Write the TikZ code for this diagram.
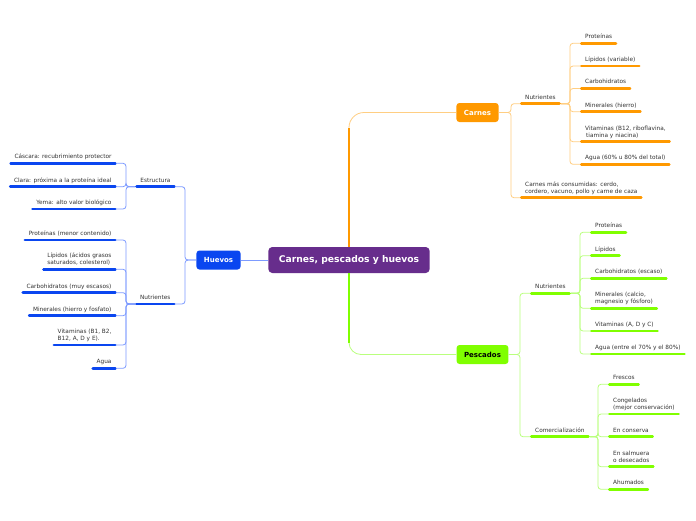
\documentclass[tikz,border=0pt]{standalone}
\usepackage{fontspec}
\setmainfont{DejaVu Sans}
\usetikzlibrary{calc}
\definecolor{cPurple}{RGB}{103,45,140}
\definecolor{cOrange}{RGB}{255,153,0}
\definecolor{cOrangeL}{RGB}{255,206,130}
\definecolor{cGreen}{RGB}{128,255,0}
\definecolor{cGreenL}{RGB}{185,255,125}
\definecolor{cBlue}{RGB}{10,70,240}
\definecolor{cBlueL}{RGB}{125,155,255}
\definecolor{cText}{RGB}{51,51,51}
\begin{document}
\begin{tikzpicture}[x=1pt,y=-1pt,
  rootbox/.style={fill=cPurple, rounded corners=4pt, text=white, font=\fontsize{9.2}{11}\selectfont\bfseries, minimum height=26pt, inner xsep=10.5pt, inner ysep=0pt},
  mainbox/.style={fill=#1, rounded corners=3pt, font=\fontsize{7}{8}\selectfont\bfseries, minimum height=19pt, inner xsep=7.5pt, inner ysep=0pt},
  leaf/.style={text=cText, font=\fontsize{5.8}{7}\selectfont, align=left, text depth=0pt, inner xsep=5pt, inner ysep=4.5pt},
  leafR/.style={leaf, anchor=south west},
  leafL/.style={leaf, anchor=south east},
  ul/.style={draw=#1, line width=2.6pt, line cap=round, shorten <=1.3pt, shorten >=1.3pt},
  con/.style={draw=#1, line width=0.8pt, rounded corners=3pt}
]
\useasboundingbox (0,0) rectangle (696,520);
\fill[white] (0,0) rectangle (696,520);

% main nodes
\node[rootbox] (root) at (349,260) {Carnes, pescados y huevos};
\node[mainbox=cOrange, text=white] (carnes) at (477.5,112.5) {Carnes};
\node[mainbox=cGreen, text=black] (pescados) at (482.5,354.5) {Pescados};
\node[mainbox=cBlue, text=white] (huevos) at (218.5,260) {Huevos};

% Carnes subtree
\node[leafR] (cnut) at (520,103.7) {Nutrientes};
\node[leafR] (cmas) at (520,197.7) {Carnes más consumidas: cerdo,\\cordero, vacuno, pollo y carne de caza};
\node[leafR] (cn1) at (580,43.3) {Proteínas};
\node[leafR] (cn2) at (580,66) {Lípidos (variable)};
\node[leafR] (cn3) at (580,88.5) {Carbohidratos};
\node[leafR] (cn4) at (580,111.7) {Minerales (hierro)};
\node[leafR] (cn5) at (580,141.7) {Vitaminas (B12, riboflavina,\\\hspace{1pt}tiamina y niacina)};
\node[leafR] (cn6) at (580,164.3) {Agua (60\% u 80\% del total)};

% Pescados subtree
\node[leafR] (pnut) at (530,293.3) {Nutrientes};
\node[leafR] (pcom) at (530,436.7) {Comercialización};
\node[leafR] (pn1) at (590,232.3) {Proteínas};
\node[leafR] (pn2) at (590,255.7) {Lípidos};
\node[leafR] (pn3) at (590,278.3) {Carbohidratos (escaso)};
\node[leafR] (pn4) at (590,308.3) {Minerales (calcio,\\magnesio y fósforo)};
\node[leafR] (pn5) at (590,331) {Vitaminas (A, D y C)};
\node[leafR] (pn6) at (590,354) {Agua (entre el 70\% y el 80\%)};
\node[leafR] (pc1) at (608,384.3) {Frescos};
\node[leafR] (pc2) at (608,414) {Congelados\\(mejor conservación)};
\node[leafR] (pc3) at (608,436.7) {En conserva};
\node[leafR] (pc4) at (608,466.7) {En salmuera\\o desecados};
\node[leafR] (pc5) at (608,489.3) {Ahumados};

% Huevos subtree
\node[leafL] (hest) at (175.7,186.7) {Estructura};
\node[leafL] (hnut) at (175.7,304) {Nutrientes};
\node[leafL] (he1) at (116.7,163.3) {Cáscara: recubrimiento protector};
\node[leafL] (he2) at (116.7,186.7) {Clara: próxima a la proteína ideal};
\node[leafL] (he3) at (116.7,209) {Yema: alto valor biológico};
\node[leafL] (hn1) at (116.7,240) {Proteínas (menor contenido)};
\node[leafL] (hn2) at (116.7,269.3) {Lípidos (ácidos grasos\\saturados, colesterol)};
\node[leafL] (hn3) at (116.7,292.7) {Carbohidratos (muy escasos)};
\node[leafL] (hn4) at (116.7,315.7) {Minerales (hierro y fosfato)};
\node[leafL] (hn5) at (116.7,345) {Vitaminas (B1, B2,\\B12, A, D y E).};
\node[leafL] (hn6) at (116.7,368.3) {Agua};

% root connectors
\draw[con=cOrangeL, rounded corners=15pt] (root.north) |- (carnes.west);
\draw[cOrange, line width=1.8pt] (root.north) -- ($(root.north |- carnes.west)+(0,15)$);
\draw[con=cGreenL, rounded corners=12pt] (root.south) |- (pescados.west);
\draw[cGreen, line width=1.8pt] (root.south) -- ($(root.south |- pescados.west)+(0,-12)$);
\draw[con=cBlueL, line width=1pt] (root.west) -- (huevos.east);

% Carnes connectors
\foreach \c in {cnut,cmas}
  \draw[con=cOrangeL] (carnes.east) -| ([xshift=-9pt]\c.south west) -- (\c.south west);
\foreach \c in {cn1,cn2,cn3,cn4,cn5,cn6}
  \draw[con=cOrangeL] (cnut.south east) -| ([xshift=-10pt]\c.south west) -- (\c.south west);

% Pescados connectors
\foreach \c in {pnut,pcom}
  \draw[con=cGreenL] (pescados.east) -| ([xshift=-10pt]\c.south west) -- (\c.south west);
\foreach \c in {pn1,pn2,pn3,pn4,pn5,pn6}
  \draw[con=cGreenL] (pnut.south east) -| ([xshift=-10pt]\c.south west) -- (\c.south west);
\foreach \c in {pc1,pc2,pc3,pc4,pc5}
  \draw[con=cGreenL] (pcom.south east) -| ([xshift=-10pt]\c.south west) -- (\c.south west);

% Huevos connectors
\foreach \c in {hest,hnut}
  \draw[con=cBlueL] (huevos.west) -| ([xshift=9.3pt]\c.south east) -- (\c.south east);
\foreach \c in {he1,he2,he3}
  \draw[con=cBlueL] (hest.south west) -| ([xshift=9.3pt]\c.south east) -- (\c.south east);
\foreach \c in {hn1,hn2,hn3,hn4,hn5,hn6}
  \draw[con=cBlueL] (hnut.south west) -| ([xshift=9.3pt]\c.south east) -- (\c.south east);

% underlines
\foreach \n in {cnut,cmas,cn1,cn2,cn3,cn4,cn5,cn6}
  \draw[ul=cOrange] (\n.south west) -- (\n.south east);
\foreach \n in {pnut,pcom,pn1,pn2,pn3,pn4,pn5,pn6,pc1,pc2,pc3,pc4,pc5}
  \draw[ul=cGreen] (\n.south west) -- (\n.south east);
\foreach \n in {hest,hnut,he1,he2,he3,hn1,hn2,hn3,hn4,hn5,hn6}
  \draw[ul=cBlue] (\n.south west) -- (\n.south east);
\end{tikzpicture}
\end{document}
